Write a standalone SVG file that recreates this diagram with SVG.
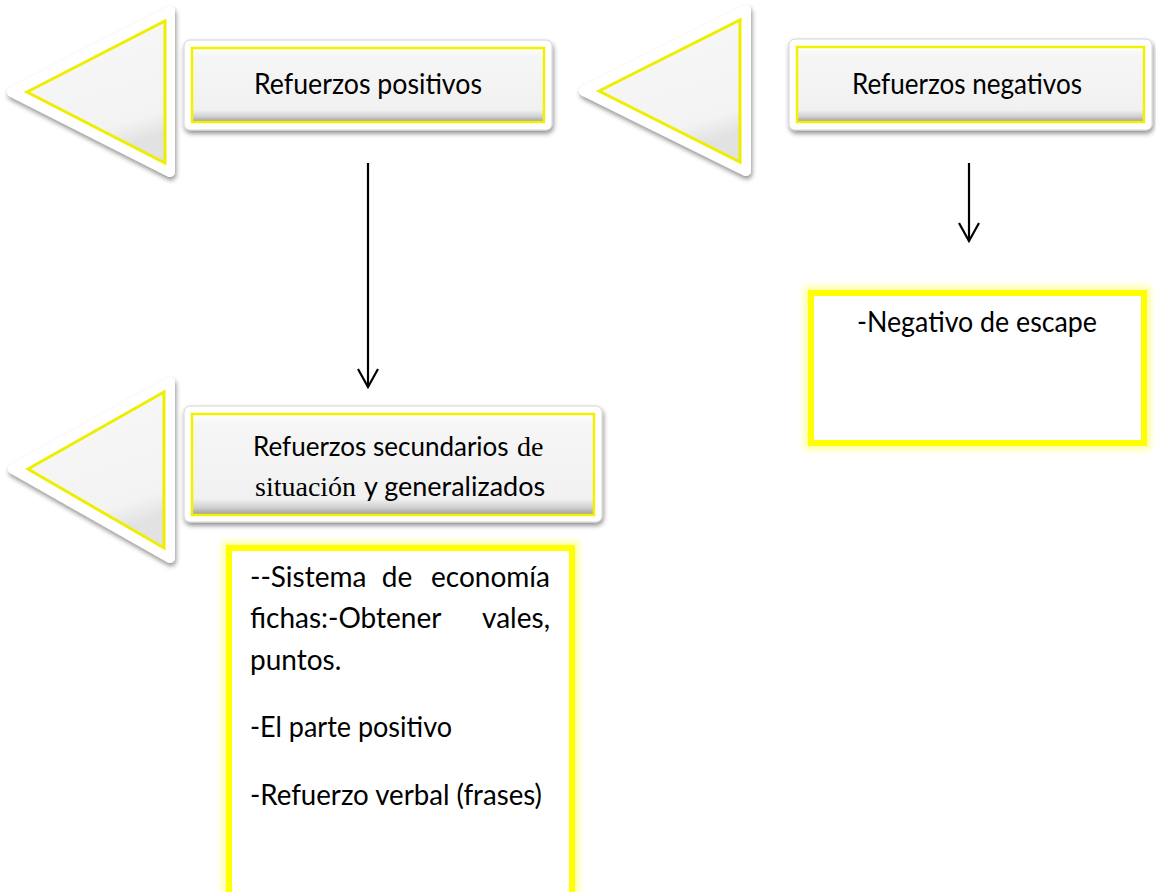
<svg xmlns="http://www.w3.org/2000/svg" width="1156" height="892" viewBox="0 0 1156 892">
<style>
.cal{font-family:Lato,"Open Sans","Liberation Sans",sans-serif;font-size:28px;fill:#000}
.tim{font-family:"Liberation Serif","Times New Roman",serif;font-size:28px;fill:#000}
.outer{fill:#ffffff;stroke:#d4d4d4;stroke-width:1}
.inner{fill:url(#bevel);stroke:#f2f200;stroke-width:2.5}
.tri-outer{fill:#ffffff;stroke:#ffffff;stroke-width:10;stroke-linejoin:round}
.tri-inner{fill:url(#triFill);stroke:#eeee00;stroke-width:3;stroke-linejoin:miter}
.ybox{fill:#ffffff;stroke:#ffff00;stroke-width:6}
.yglow{fill:none;stroke:#ffff00;stroke-width:14;opacity:0.35}
.conn{stroke:#000;stroke-width:2.2;fill:none}
</style>
<defs>
<linearGradient id="bevel" x1="0" y1="0" x2="0" y2="1">
<stop offset="0" stop-color="#ffffff"/>
<stop offset="0.1" stop-color="#f6f6f6"/>
<stop offset="0.84" stop-color="#f1f1f1"/>
<stop offset="0.93" stop-color="#cfcfcf"/>
<stop offset="1" stop-color="#9a9a9a"/>
</linearGradient>
<linearGradient id="triFill" x1="0" y1="0" x2="0.3" y2="1">
<stop offset="0" stop-color="#f8f8f8"/>
<stop offset="0.85" stop-color="#f3f3f3"/>
<stop offset="1" stop-color="#e2e2e2"/>
</linearGradient>
<filter id="shadow" x="-10%" y="-10%" width="120%" height="130%">
<feGaussianBlur in="SourceAlpha" stdDeviation="2.5"/>
<feOffset dx="1" dy="3" result="b"/>
<feComponentTransfer><feFuncA type="linear" slope="0.45"/></feComponentTransfer>
<feMerge><feMergeNode/><feMergeNode in="SourceGraphic"/></feMerge>
</filter>
<filter id="glow" x="-10%" y="-10%" width="120%" height="120%">
<feGaussianBlur stdDeviation="3"/>
</filter>
<marker id="vhead" markerUnits="userSpaceOnUse" orient="auto" refX="0" refY="0" markerWidth="30" markerHeight="30" overflow="visible">
<path d="M-18,-10 L0,0 L-18,10" fill="none" stroke="#000" stroke-width="2.2"/>
</marker>
</defs>

<g id="connectors">
<line class="conn" x1="368" y1="163" x2="368" y2="387" marker-end="url(#vhead)"/>
<line class="conn" x1="969" y1="163" x2="969" y2="241" marker-end="url(#vhead)"/>
</g>

<g id="tri1">
<polygon class="tri-outer" points="12,92 170,11 170,172" filter="url(#shadow)"/>
<polygon class="tri-inner" points="27,92 165,21 165,163"/>
</g>

<g id="box-positivos">
<rect class="outer" x="184" y="40" width="368" height="90" rx="6" filter="url(#shadow)"/>
<rect class="inner" x="192" y="48" width="352" height="74"/>
<text class="cal" x="368" y="94" text-anchor="middle" textLength="228" lengthAdjust="spacingAndGlyphs">Refuerzos positivos</text>
</g>

<g id="tri2">
<polygon class="tri-outer" points="584,91 746,10 746,171" filter="url(#shadow)"/>
<polygon class="tri-inner" points="599,91 740,20 740,162"/>
</g>

<g id="box-negativos">
<rect class="outer" x="789" y="39" width="363" height="91" rx="6" filter="url(#shadow)"/>
<rect class="inner" x="797" y="47" width="347" height="75"/>
<text class="cal" x="967" y="94" text-anchor="middle" textLength="230" lengthAdjust="spacingAndGlyphs">Refuerzos negativos</text>
</g>

<g id="box-escape">
<rect class="yglow" x="811" y="293" width="333" height="150" filter="url(#glow)"/>
<rect class="ybox" x="811" y="293" width="333" height="150"/>
<text class="cal" x="977" y="332" text-anchor="middle" textLength="240" lengthAdjust="spacingAndGlyphs">-Negativo de escape</text>
</g>

<g id="tri3">
<polygon class="tri-outer" points="13,469 170,382 170,558" filter="url(#shadow)"/>
<polygon class="tri-inner" points="28,469 164,392 164,548"/>
</g>

<g id="box-secundarios">
<rect class="outer" x="184" y="406" width="418" height="116" rx="6" filter="url(#shadow)"/>
<rect class="inner" x="192" y="414" width="402" height="101"/>
<text class="cal" x="253" y="456" style="font-size:26px">Refuerzos secundarios</text>
<text class="tim" x="517" y="456">de</text>
<text class="tim" x="255" y="496">situación</text>
<text class="cal" x="364" y="496" style="font-size:27px">y generalizados</text>
</g>

<g id="box-lista">
<rect class="yglow" x="229" y="548" width="343" height="360" filter="url(#glow)"/>
<rect class="ybox" x="229" y="548" width="343" height="360"/>
<text class="cal" x="250" y="587">--Sistema</text>
<text class="cal" x="397" y="587" text-anchor="middle">de</text>
<text class="cal" x="550" y="587" text-anchor="end">economía</text>
<text class="cal" x="250" y="628">fichas:-Obtener</text>
<text class="cal" x="550" y="628" text-anchor="end">vales,</text>
<text class="cal" x="250" y="670">puntos.</text>
<text class="cal" x="250" y="737" textLength="202" lengthAdjust="spacingAndGlyphs">-El parte positivo</text>
<text class="cal" x="250" y="805" textLength="292" lengthAdjust="spacingAndGlyphs">-Refuerzo verbal (frases)</text>
</g>
</svg>
